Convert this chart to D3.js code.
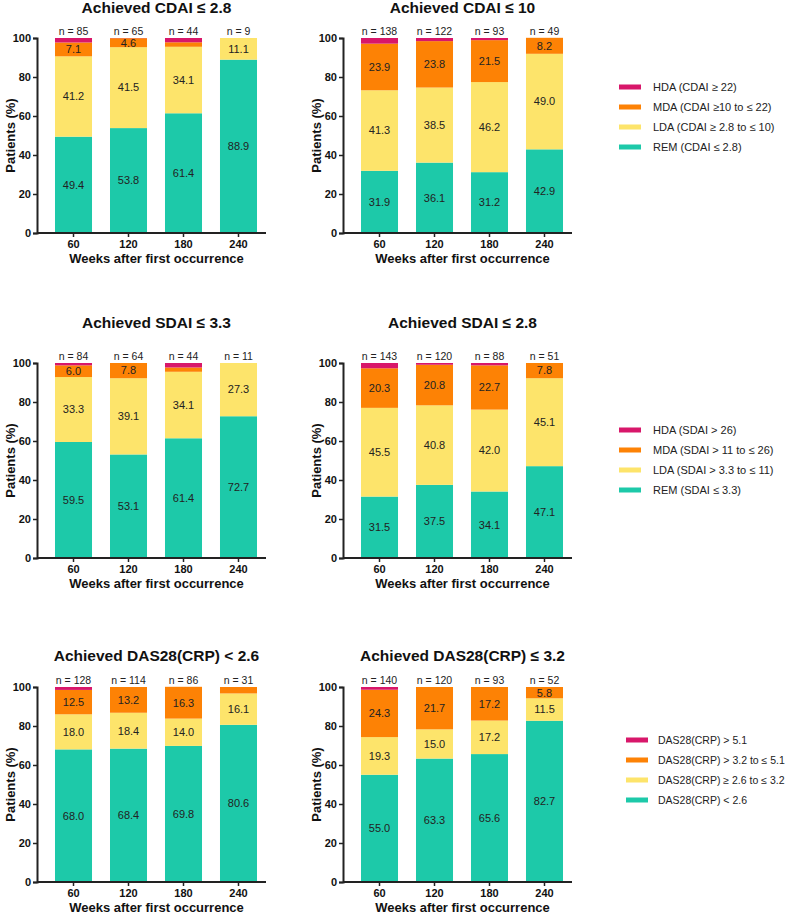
<!DOCTYPE html>
<html>
<head>
<meta charset="utf-8">
<script src="https://cdn.jsdelivr.net/npm/d3@7"></script>
<style>
  body { margin: 0; background: #fff; }
  text { font-family: "Liberation Sans", Arial, sans-serif; }
</style>
</head>
<body>
<script>
// weeks after first occurrence
var weeks = ["60", "120", "180", "240"];
var yTicks = [0, 20, 40, 60, 80, 100];

// Achieved CDAI <= 2.8
var cdai28N   = [85, 65, 44, 9];
var cdai28Rem = [49.4, 53.8, 61.4, 88.9];
var cdai28Lda = [41.2, 41.5, 34.1, 11.1];
var cdai28Mda = [7.1, 4.6, 2.3, 0];
var cdai28Hda = [2.3, 0.1, 2.2, 0];

// Achieved CDAI <= 10
var cdai10N   = [138, 122, 93, 49];
var cdai10Rem = [31.9, 36.1, 31.2, 42.9];
var cdai10Lda = [41.3, 38.5, 46.2, 49.0];
var cdai10Mda = [23.9, 23.8, 21.5, 8.2];
var cdai10Hda = [2.9, 1.6, 1.1, 0];

// Achieved SDAI <= 3.3
var sdai33N   = [84, 64, 44, 11];
var sdai33Rem = [59.5, 53.1, 61.4, 72.7];
var sdai33Lda = [33.3, 39.1, 34.1, 27.3];
var sdai33Mda = [6.0, 7.8, 2.2, 0];
var sdai33Hda = [1.2, 0, 2.3, 0];

// Achieved SDAI <= 2.8
var sdai28N   = [143, 120, 88, 51];
var sdai28Rem = [31.5, 37.5, 34.1, 47.1];
var sdai28Lda = [45.5, 40.8, 42.0, 45.1];
var sdai28Mda = [20.3, 20.8, 22.7, 7.8];
var sdai28Hda = [2.7, 0.9, 1.2, 0];

// Achieved DAS28(CRP) < 2.6
var das26N   = [128, 114, 86, 31];
var das26Rem = [68.0, 68.4, 69.8, 80.6];
var das26Lda = [18.0, 18.4, 14.0, 16.1];
var das26Mda = [12.5, 13.2, 16.3, 3.3];
var das26Hda = [1.5, 0, 0, 0];

// Achieved DAS28(CRP) <= 3.2
var das32N   = [140, 120, 93, 52];
var das32Rem = [55.0, 63.3, 65.6, 82.7];
var das32Lda = [19.3, 15.0, 17.2, 11.5];
var das32Mda = [24.3, 21.7, 17.2, 5.8];
var das32Hda = [1.4, 0, 0, 0];

var cdaiLegend = ["HDA (CDAI \u2265 22)", "MDA (CDAI \u226510 to \u2264 22)", "LDA (CDAI \u2265 2.8 to \u2264 10)", "REM (CDAI \u2264 2.8)"];
var sdaiLegend = ["HDA (SDAI > 26)", "MDA (SDAI > 11 to \u2264 26)", "LDA (SDAI > 3.3 to \u2264 11)", "REM (SDAI \u2264 3.3)"];
var dasLegend  = ["DAS28(CRP) > 5.1", "DAS28(CRP) > 3.2 to \u2264 5.1", "DAS28(CRP) \u2265 2.6 to \u2264 3.2", "DAS28(CRP) < 2.6"];

var keys = ["rem", "lda", "mda", "hda"];
var color = d3.scaleOrdinal().domain(keys).range(["#1dc9a9", "#fde46b", "#fd8205", "#d8176a"]);

var width = 789, height = 914;
var svg = d3.select("body").append("svg")
    .attr("width", width)
    .attr("height", height);

function rows(rem, lda, mda, hda) {
  return weeks.map(function (w, i) {
    return { week: w, rem: rem[i], lda: lda[i], mda: mda[i], hda: hda[i] };
  });
}

var panels = [
  { title: "Achieved CDAI \u2264 2.8", n: cdai28N, data: rows(cdai28Rem, cdai28Lda, cdai28Mda, cdai28Hda), x: 0,   y: 38,  tdy: 25 },
  { title: "Achieved CDAI \u2264 10",  n: cdai10N, data: rows(cdai10Rem, cdai10Lda, cdai10Mda, cdai10Hda), x: 306, y: 38,  tdy: 25 },
  { title: "Achieved SDAI \u2264 3.3", n: sdai33N, data: rows(sdai33Rem, sdai33Lda, sdai33Mda, sdai33Hda), x: 0,   y: 363, tdy: 35 },
  { title: "Achieved SDAI \u2264 2.8", n: sdai28N, data: rows(sdai28Rem, sdai28Lda, sdai28Mda, sdai28Hda), x: 306, y: 363, tdy: 35 },
  { title: "Achieved DAS28(CRP) < 2.6", n: das26N, data: rows(das26Rem, das26Lda, das26Mda, das26Hda), x: 0,   y: 687, tdy: 26 },
  { title: "Achieved DAS28(CRP) \u2264 3.2", n: das32N, data: rows(das32Rem, das32Lda, das32Mda, das32Hda), x: 306, y: 687, tdy: 26 }
];

var axisX0 = 37, plotW = 229, plotH = 195;

var x = d3.scaleBand().domain(weeks).range([9, plotW]).paddingInner(0.327).paddingOuter(0.1636);
var y = d3.scaleLinear().domain([0, 100]).range([plotH, 0]);
var stack = d3.stack().keys(keys);

panels.forEach(function (p) {
  var g = svg.append("g").attr("transform", "translate(" + (p.x + axisX0) + "," + p.y + ")");
  var series = stack(p.data);

  g.selectAll("g.series")
    .data(series)
    .enter().append("g")
    .attr("class", "series")
    .attr("fill", function (d) { return color(d.key); })
    .selectAll("rect")
    .data(function (d) { return d; })
    .enter().append("rect")
    .attr("x", function (d) { return x(d.data.week); })
    .attr("width", x.bandwidth())
    .attr("y", function (d) { return y(d[1]); })
    .attr("height", function (d) { return y(d[0]) - y(d[1]); });

  // value labels
  series.forEach(function (s) {
    g.selectAll(null)
      .data(s.filter(function (d) { return d[1] - d[0] >= 4; }))
      .enter().append("text")
      .attr("x", function (d) { return x(d.data.week) + x.bandwidth() / 2; })
      .attr("y", function (d) { return y((d[0] + d[1]) / 2); })
      .attr("dy", "0.35em")
      .attr("text-anchor", "middle")
      .style("font-size", "11px")
      .style("fill", "#222")
      .text(function (d) { return (d[1] - d[0]).toFixed(1); });
  });

  // n labels
  g.selectAll(null)
    .data(p.n)
    .enter().append("text")
    .attr("x", function (d, i) { return x(weeks[i]) + x.bandwidth() / 2; })
    .attr("y", -3)
    .attr("text-anchor", "middle")
    .style("font-size", "10.5px")
    .style("fill", "#222")
    .text(function (d) { return "n = " + d; });

  var yAxis = g.append("g").call(d3.axisLeft(y).tickValues(yTicks).tickSize(4).tickPadding(2));
  var xAxis = g.append("g").attr("transform", "translate(0," + plotH + ")")
    .call(d3.axisBottom(x).tickSize(4).tickPadding(3));
  xAxis.select(".domain").attr("d", "M0,0H" + plotW);

  [yAxis, xAxis].forEach(function (a) {
    a.select(".domain").attr("stroke", "#222").attr("stroke-width", 2);
    a.selectAll(".tick line").attr("stroke", "#222").attr("stroke-width", 1.5);
    a.selectAll(".tick text")
      .attr("fill", "#111")
      .style("font-size", "11px")
      .style("font-weight", "bold")
      .style("font-family", "'Liberation Sans', Arial, sans-serif");
  });

  g.append("text")
    .attr("x", plotW / 2 + 5)
    .attr("y", -p.tdy)
    .attr("text-anchor", "middle")
    .style("font-size", "15.5px")
    .style("font-weight", "bold")
    .style("fill", "#111")
    .text(p.title);

  g.append("text")
    .attr("x", plotW / 2 + 5)
    .attr("y", plotH + 30)
    .attr("text-anchor", "middle")
    .style("font-size", "13px")
    .style("font-weight", "bold")
    .style("fill", "#111")
    .text("Weeks after first occurrence");

  g.append("text")
    .attr("transform", "translate(-22," + (plotH / 2) + ") rotate(-90)")
    .attr("text-anchor", "middle")
    .style("font-size", "13px")
    .style("font-weight", "bold")
    .style("fill", "#111")
    .text("Patients (%)");
});

// legends
var legends = [
  { labels: cdaiLegend, x: 619, y: 87,  gap: 34, size: 11 },
  { labels: sdaiLegend, x: 619, y: 430, gap: 34, size: 11 },
  { labels: dasLegend,  x: 626, y: 740, gap: 32, size: 10.5 }
];
var legendKeys = ["hda", "mda", "lda", "rem"];

legends.forEach(function (l) {
  var lg = svg.append("g").attr("transform", "translate(" + l.x + "," + l.y + ")");
  var item = lg.selectAll("g")
    .data(l.labels)
    .enter().append("g")
    .attr("transform", function (d, i) { return "translate(0," + (i * 20) + ")"; });
  item.append("rect")
    .attr("x", 0).attr("y", -2.5)
    .attr("width", 22).attr("height", 5)
    .attr("fill", function (d, i) { return color(legendKeys[i]); });
  item.append("text")
    .attr("x", l.gap)
    .attr("dy", "0.35em")
    .style("font-size", l.size + "px")
    .style("fill", "#222")
    .text(function (d) { return d; });
});
</script>
</body>
</html>
